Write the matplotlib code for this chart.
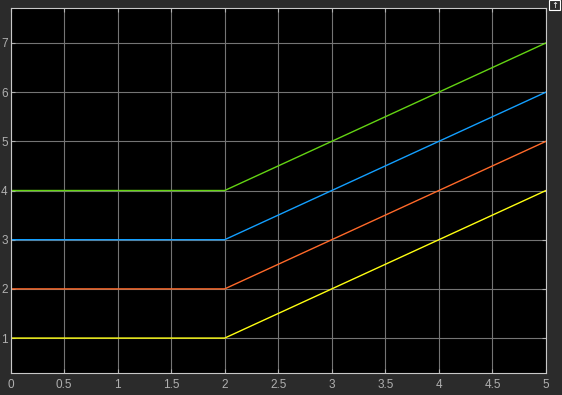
import matplotlib
matplotlib.use("Agg")
import matplotlib.pyplot as plt
from matplotlib.patches import Rectangle

plt.rcParams["font.family"] = ["Liberation Sans", "DejaVu Sans"]

# 資料：每條訊號的時間與數值
t = [0, 2, 5]
yellow_sig = [1, 1, 4]
orange_sig = [2, 2, 5]
blue_sig = [3, 3, 6]
green_sig = [4, 4, 7]

x_ticks = [0, 0.5, 1, 1.5, 2, 2.5, 3, 3.5, 4, 4.5, 5]
x_labels = ["0", "0.5", "1", "1.5", "2", "2.5", "3", "3.5", "4", "4.5", "5"]
y_ticks = [1, 2, 3, 4, 5, 6, 7]

series = [
    (yellow_sig, (1.0, 1.0, 0.0667)),
    (orange_sig, (1.0, 0.4118, 0.1608)),
    (blue_sig, (0.0745, 0.6235, 1.0)),
    (green_sig, (0.3922, 0.8314, 0.0745)),
]

fig = plt.figure(figsize=(5.62, 3.95), dpi=100, facecolor="#2b2b2b")
W, H = 562, 395
ax = fig.add_axes([10.5 / W, 1 - 373 / H, (546 - 10.5) / W, (373 - 8) / H])
ax.set_facecolor("black")

for vals, c in series:
    ax.plot(t, vals, color=c, linewidth=1.0)

ax.set_xlim(0, 5)
ax.set_ylim(0.29, 7.71)
ax.set_xticks(x_ticks)
ax.set_xticklabels(x_labels)
ax.set_yticks(y_ticks)
ax.grid(True, color="#747474", linewidth=0.8)
ax.tick_params(colors="#b0b0b0", labelsize=8.5, direction="in", length=3,
               top=True, right=True, pad=4)
ax.tick_params(axis="y", pad=2)
for s in ax.spines.values():
    s.set_color("#c8c8c8")
    s.set_linewidth(0.8)

# 右上角的小圖示
fig.patches.append(Rectangle((549 / W, 1 - 10 / H), 11 / W, 10 / H,
                             transform=fig.transFigure, facecolor="#2b2b2b",
                             edgecolor="white", linewidth=0.8))
fig.text(554.5 / W, 1 - 5 / H, "↑", color="white", fontsize=6,
         ha="center", va="center", family="DejaVu Sans")

plt.savefig("out.png", dpi=100, facecolor=fig.get_facecolor())
